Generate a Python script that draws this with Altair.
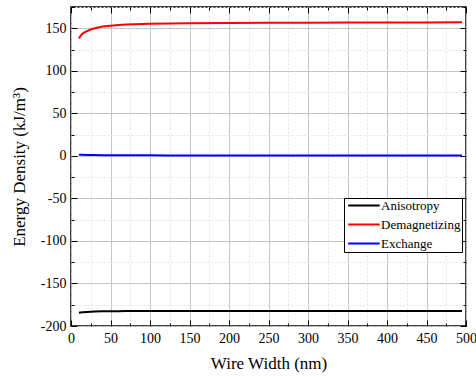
import altair as alt
import pandas as pd

widths = [10, 12, 15, 20, 25, 30, 40, 50, 60, 70, 80, 100, 125, 150, 200, 250, 300, 350, 400, 450, 495]
anisotropy = [-184.3, -184.0, -183.7, -183.4, -183.2, -183.0, -182.8, -182.7, -182.6, -182.5, -182.5, -182.4, -182.4, -182.4, -182.3, -182.3, -182.3, -182.3, -182.3, -182.3, -182.3]
demagnetizing = [138.0, 141.0, 144.0, 146.5, 148.5, 150.0, 152.0, 153.0, 153.8, 154.3, 154.7, 155.2, 155.6, 155.9, 156.3, 156.5, 156.6, 156.7, 156.8, 156.9, 157.0]
exchange = [1.3, 1.3, 1.2, 1.1, 1.0, 0.9, 0.8, 0.7, 0.7, 0.6, 0.6, 0.6, 0.5, 0.5, 0.5, 0.5, 0.5, 0.5, 0.5, 0.5, 0.4]

series_names = ["Anisotropy", "Demagnetizing", "Exchange"]
series_colors = ["#000000", "#ff0000", "#0000ff"]

x_ticks = list(range(0, 501, 25))
y_ticks = list(range(-200, 176, 25))

rows = []
for name, vals in zip(series_names, [anisotropy, demagnetizing, exchange]):
    for w, v in zip(widths, vals):
        rows.append({"x": w, "value": v, "series": name})
df = pd.DataFrame(rows)

FONT = "'Liberation Serif', 'Times New Roman', 'DejaVu Serif', serif"
major = "datum.value % 50 === 0"

def axis(orient, labels, grid, title=None, title_pad=0):
    kw = dict(
        orient=orient,
        domain=False,
        ticks=True,
        tickSize=6,
        offset=-6,
        tickColor="#000000",
        tickWidth=1,
        tickDash=alt.condition(major, alt.value([8, 1]), alt.value([0, 3, 3, 10])),
        labels=labels,
        labelFlush=False,
        labelOverlap=False,
        grid=grid,
        gridColor=alt.condition(major, alt.value("#c4c4c4"), alt.value("#e2e2e2")),
        gridDash=alt.condition(major, alt.value([8, 0]), alt.value([2, 2])),
        gridWidth=1,
        labelFont=FONT,
        labelFontSize=14,
        labelColor="#000000",
        labelPadding=5,
        labelExpr="datum.value % 50 === 0 ? replace(datum.label, '\u2212', '-') : ''",
        titleFont=FONT,
        titleFontSize=17,
        titleFontWeight="normal",
        titleColor="#000000",
    )
    if orient in ("bottom", "top"):
        kw["values"] = x_ticks
    else:
        kw["values"] = y_ticks
    if title is not None:
        kw["title"] = title
        kw["titlePadding"] = title_pad
    else:
        kw["title"] = None
    return alt.Axis(**kw)

xscale = alt.Scale(domain=[0, 500], nice=False, zero=False)
yscale = alt.Scale(domain=[-200, 175], nice=False, zero=False)

lines = alt.Chart(df).mark_line(strokeWidth=2, clip=True).encode(
    x=alt.X("x:Q", scale=xscale, axis=axis("bottom", True, True, "Wire Width (nm)", 10)),
    y=alt.Y("value:Q", scale=yscale, axis=axis("left", True, True, "Energy Density (kJ/m³)", 12)),
    color=alt.Color(
        "series:N",
        scale=alt.Scale(domain=series_names, range=series_colors),
        legend=alt.Legend(
            title=None,
            orient="none",
            legendX=273,
            legendY=191,
            fillColor="#ffffff",
            strokeColor="#000000",
            padding=1,
            symbolType="M-1,0H8.5",
            symbolSize=44,
            symbolStrokeWidth=2,
            labelFont=FONT,
            labelFontSize=13,
            labelColor="#000000",
            labelOffset=23,
            labelLimit=200,
            rowPadding=5,
        ),
    ),
    order="series:N",
)

frame = alt.Chart(df).mark_point(opacity=0).encode(
    x=alt.X("x:Q", scale=xscale, axis=axis("top", False, False)),
    y=alt.Y("value:Q", scale=yscale, axis=axis("right", False, False)),
)

chart = alt.layer(lines, frame).resolve_axis(x="independent", y="independent").properties(
    width=395,
    height=319,
    padding={"left": 71, "top": 7, "right": 10, "bottom": 51},
    autosize=alt.AutoSizeParams(type="none"),
).configure_view(stroke="#000000", strokeWidth=1.5)

chart.save("out.html", embed_options={"renderer": "svg", "actions": False})
